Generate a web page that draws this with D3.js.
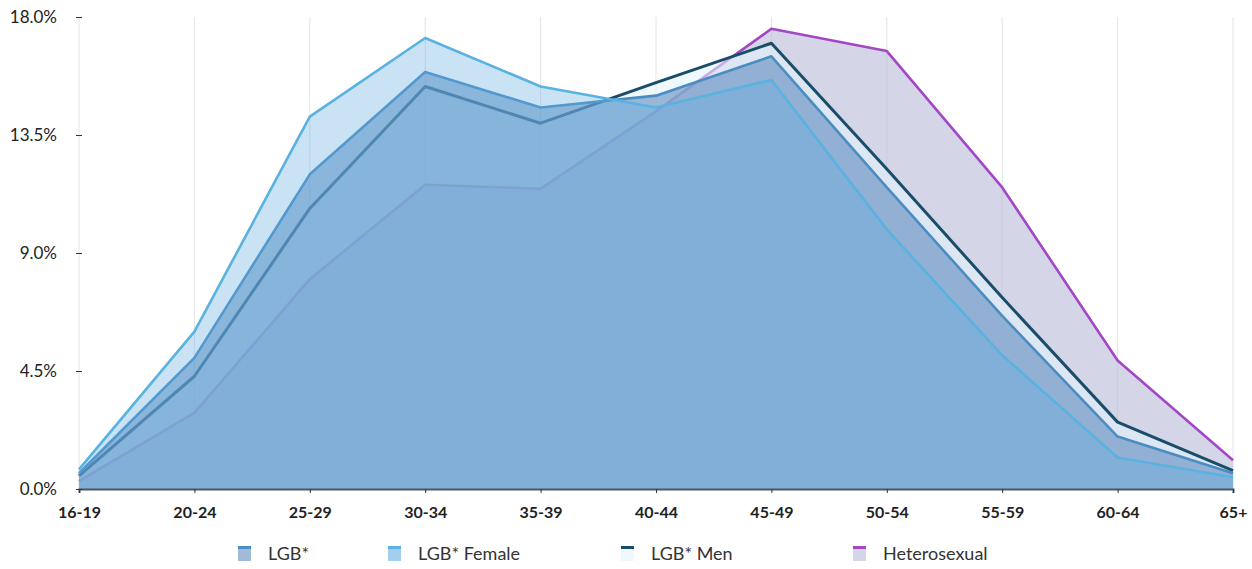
<!DOCTYPE html>
<html>
<head>
<meta charset="utf-8">
<script src="https://cdn.jsdelivr.net/npm/d3@7"></script>
<style>
  html, body { margin: 0; padding: 0; background: #fff; }
  svg { display: block; font-family: Lato, "Open Sans", sans-serif; }
</style>
</head>
<body>
<svg id="chart" width="1252" height="569"></svg>
<script>
// ---- data ----
const categories = ["16-19","20-24","25-29","30-34","35-39","40-44","45-49","50-54","55-59","60-64","65+"];
const yTicks = [0, 4.5, 9, 13.5, 18];
const heterosexual = [0.3, 2.9, 8.0, 11.6, 11.45, 14.4, 17.55, 16.7, 11.5, 4.9, 1.1];
const lgbMen       = [0.5, 4.3, 10.7, 15.35, 13.95, 15.5, 17.0, 12.2, 7.3, 2.55, 0.7];
const lgbAll       = [0.6, 5.0, 12.0, 15.9, 14.55, 15.0, 16.5, 11.5, 6.6, 2.0, 0.6];
const lgbFemale    = [0.75, 6.0, 14.2, 17.2, 15.35, 14.55, 15.6, 9.9, 5.1, 1.2, 0.45];
const seriesNames  = ["LGB*", "LGB* Female", "LGB* Men", "Heterosexual"];

// styles (draw order bottom -> top)
const drawOrder = [
  {name: "Heterosexual", values: heterosexual, fill: "rgb(190,190,220)", fillOp: 0.65, stroke: "#a347c6", sw: 2.6},
  {name: "LGB* Men",     values: lgbMen,       fill: "rgb(227,244,252)", fillOp: 0.6,  stroke: "#1a4d69", sw: 3},
  {name: "LGB*",         values: lgbAll,       fill: "rgb(97,140,189)",  fillOp: 0.6,  stroke: "#4a8dc3", sw: 2.6},
  {name: "LGB* Female",  values: lgbFemale,    fill: "rgb(100,175,225)", fillOp: 0.35, stroke: "#5ab2e0", sw: 2.6}
];

const svg = d3.select("#chart");
const margin = {left: 79, right: 19, top: 17, bottom: 80};
const W = 1252, H = 569;
const x = d3.scalePoint().domain(categories).range([margin.left, W - margin.right]);
const y = d3.scaleLinear().domain([0, 18]).range([H - margin.bottom, margin.top]);

// vertical grid lines
svg.append("g").selectAll("line").data(categories).join("line")
  .attr("x1", d => x(d)).attr("x2", d => x(d))
  .attr("y1", y(18)).attr("y2", y(0))
  .attr("stroke", "#e4e4e4").attr("stroke-width", 1);

// areas
const area = d3.area().x((d, i) => x(categories[i])).y0(y(0)).y1(d => y(d));
const line = d3.line().x((d, i) => x(categories[i])).y(d => y(d));
drawOrder.forEach(s => {
  const g = svg.append("g");
  g.append("path").attr("d", area(s.values)).attr("fill", s.fill).attr("fill-opacity", s.fillOp);
  g.append("path").attr("d", line(s.values)).attr("fill", "none")
    .attr("stroke", s.stroke).attr("stroke-width", s.sw).attr("stroke-linejoin", "round");
});

// x axis
const xAxis = svg.append("g").attr("transform", `translate(0,${y(0)})`)
  .call(d3.axisBottom(x).tickSize(4).tickPadding(14));
xAxis.select(".domain").attr("stroke", "#4b5766").attr("stroke-width", 2);
xAxis.selectAll(".tick line").attr("stroke", "#333");
xAxis.selectAll("text").attr("font-size", 16).attr("font-weight", 700).attr("fill", "#222")
  .attr("font-family", "Lato, 'Open Sans', sans-serif");

// y axis
const yAxis = svg.append("g").attr("transform", `translate(${margin.left + 3},0)`)
  .call(d3.axisLeft(y).tickValues(yTicks).tickSize(6).tickPadding(19).tickFormat(d => d.toFixed(1) + "%"));
yAxis.select(".domain").remove();
yAxis.selectAll(".tick line").attr("stroke", "#333");
yAxis.selectAll("text").attr("font-size", 17).attr("fill", "#222")
  .attr("font-family", "Lato, 'Open Sans', sans-serif");

// legend
const legendX = [238, 388, 621, 853];
const legendStyle = {
  "LGB*": drawOrder[2], "LGB* Female": drawOrder[3], "LGB* Men": drawOrder[1], "Heterosexual": drawOrder[0]
};
const lg = svg.append("g");
seriesNames.forEach((n, i) => {
  const s = legendStyle[n];
  const it = lg.append("g").attr("transform", `translate(${legendX[i]},546)`);
  it.append("rect").attr("width", 13).attr("height", 15).attr("fill", s.fill).attr("fill-opacity", Math.max(s.fillOp, 0.6));
  it.append("rect").attr("width", 13).attr("height", 3).attr("fill", s.stroke);
  it.append("text").attr("x", 30).attr("y", 14).text(n)
    .attr("font-size", 18).attr("fill", "#333");
});
</script>
</body>
</html>
